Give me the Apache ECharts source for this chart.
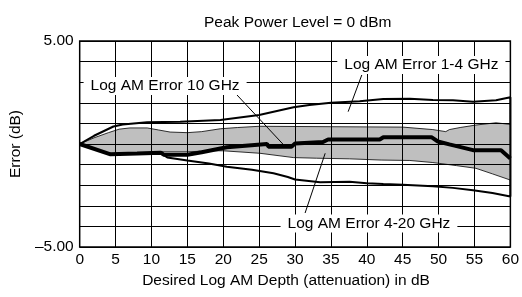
<!DOCTYPE html>
<html>
<head>
<meta charset="utf-8">
<style>
  html, body { margin: 0; padding: 0; background: #fff; }
  #main { width: 522px; height: 297px; }
</style>
<script src="https://cdn.jsdelivr.net/npm/echarts@6/dist/echarts.min.js"></script>
</head>
<body>
<div id="main"></div>
<script>
// 外包络线 1-4 GHz (上沿 / 下沿)
var outerUpperX = [0, 2, 4.7, 6, 9.4, 14, 19.6, 25, 29.8, 32, 35, 39, 42.3, 46, 49.2, 52, 54.8, 58, 60];
var outerUpperY = [0, 0.4, 0.85, 0.95, 1.05, 1.08, 1.17, 1.41, 1.78, 1.89, 2.0, 2.08, 2.18, 2.2, 2.14, 2.12, 2.05, 2.12, 2.27];
var outerLowerX = [0, 4.2, 8, 11.3, 12.2, 15, 18, 20.5, 24, 27, 29, 30, 33.5, 37.6, 40, 42.3, 45, 49.2, 52, 54.8, 57.5, 60];
var outerLowerY = [0, -0.48, -0.45, -0.45, -0.65, -0.8, -0.95, -1.1, -1.25, -1.42, -1.6, -1.72, -1.86, -1.83, -1.9, -1.94, -1.98, -2.05, -2.13, -2.25, -2.38, -2.55];

// 灰色带 4-20 GHz
var bandUpperX = [0, 2, 4, 5.5, 7, 9.4, 11, 12.6, 15, 17, 19.6, 22, 25, 30, 35, 40, 45, 49.2, 51, 51.5, 53, 55.2, 58, 60];
var bandUpperY = [0, 0.3, 0.55, 0.72, 0.78, 0.78, 0.68, 0.58, 0.55, 0.6, 0.74, 0.8, 0.86, 0.85, 0.84, 0.83, 0.82, 0.7, 0.6, 0.7, 0.8, 0.92, 1.03, 0.95];
var bandLowerX = [0, 4.3, 11.3, 15, 18.2, 20, 25.1, 29.8, 33, 37.6, 42, 46, 49.2, 52.5, 55.2, 57.5, 60];
var bandLowerY = [0, -0.47, -0.38, -0.38, -0.33, -0.33, -0.45, -0.66, -0.69, -0.72, -0.78, -0.8, -0.9, -1.05, -1.18, -1.45, -1.75];

// 10 GHz 粗线
var errX = [0, 4.3, 8, 11.3, 11.7, 15, 17, 19.6, 20.5, 23.5, 23.7, 26.1, 26.3, 29.5, 30, 33.9, 34.6, 41.8, 42.3, 49, 49.9, 51.5, 54.8, 58.7, 60];
var errY = [0, -0.5, -0.46, -0.42, -0.52, -0.52, -0.4, -0.22, -0.16, -0.07, 0.0, 0.0, -0.13, -0.13, 0.02, 0.1, 0.22, 0.22, 0.33, 0.33, 0.12, -0.02, -0.3, -0.3, -0.7];

// 标注文字与引线
var noteText = ['Log AM Error 10 GHz', 'Log AM Error 1-4 GHz', 'Log AM Error 4-20 GHz'];
var noteX = [11.9, 47.6, 40.3];
var noteY = [2.82, 3.83, -3.86];
var leaderFromX = [21, 39.3, 31.4];
var leaderFromY = [2.72, 3.35, -3.35];
var leaderToX = [28.3, 37.4, 34.2];
var leaderToY = [0.0, 1.57, -0.45];

var yLabelValues = [5, -5];
var yLabelTexts = ['5.00', '\u20135.00'];

var FONT = '"Liberation Sans", Arial, Helvetica, sans-serif';
var FS = 15.5;

function pairs(xs, ys) {
    var out = [];
    for (var i = 0; i < xs.length; i++) out.push([xs[i], ys[i]]);
    return out;
}

var outerLoop = pairs(outerUpperX, outerUpperY).concat(pairs(outerLowerX, outerLowerY).reverse());
var bandUpper = pairs(bandUpperX, bandUpperY);
var bandLower = pairs(bandLowerX, bandLowerY);

var leaderSeries = [];
for (var k = 0; k < leaderFromX.length; k++) {
    leaderSeries.push({
        type: 'line',
        z: 4,
        symbol: 'none',
        silent: true,
        lineStyle: { color: '#000', width: 1 },
        data: [[leaderFromX[k], leaderFromY[k]], [leaderToX[k], leaderToY[k]]]
    });
}

var myChart = echarts.init(document.getElementById('main'), null, { renderer: 'canvas' });
var option = {
    backgroundColor: '#fff',
    animation: false,
    title: {
        text: 'Peak Power Level = 0 dBm',
        left: 199,
        top: 10,
        textStyle: { fontFamily: FONT, fontSize: FS, fontWeight: 'normal', color: '#000' }
    },
    grid: {
        left: 79, right: 11, top: 41, bottom: 50,
        show: true, borderColor: '#000', borderWidth: 1.5, backgroundColor: 'transparent'
    },
    xAxis: {
        type: 'value',
        min: 0, max: 60, interval: 5,
        z: 3,
        name: 'Desired Log AM Depth (attenuation) in dB',
        nameLocation: 'middle',
        nameGap: 26,
        nameTextStyle: { fontFamily: FONT, fontSize: FS, color: '#000', padding: [0, 18, 0, 0] },
        axisLine: { show: false },
        axisTick: { show: false },
        axisLabel: { fontFamily: FONT, fontSize: FS, color: '#000', margin: 5 },
        splitLine: { show: true, lineStyle: { color: '#000', width: 1 } }
    },
    yAxis: {
        type: 'value',
        min: -5, max: 5, interval: 1,
        z: 3,
        name: 'Error (dB)',
        nameLocation: 'middle',
        nameGap: 53,
        nameTextStyle: { fontFamily: FONT, fontSize: FS, color: '#000' },
        axisLine: { show: false },
        axisTick: { show: false },
        axisLabel: {
            fontFamily: FONT, fontSize: FS, color: '#000', margin: 6,
            formatter: function (v) {
                var idx = yLabelValues.indexOf(v);
                return idx >= 0 ? yLabelTexts[idx] : '';
            }
        },
        splitLine: { show: true, lineStyle: { color: '#000', width: 1 } }
    },
    series: [
        {
            // 灰色带
            type: 'custom',
            z: 1,
            silent: true,
            data: [[0, 0]],
            encode: { x: 0, y: 1 },
            renderItem: function (params, api) {
                var pts = [];
                for (var i = 0; i < bandUpper.length; i++) pts.push(api.coord(bandUpper[i]));
                for (var j = bandLower.length - 1; j >= 0; j--) pts.push(api.coord(bandLower[j]));
                return {
                    type: 'polygon',
                    shape: { points: pts },
                    style: { fill: '#bfbfbf', stroke: '#000', lineWidth: 0.8 }
                };
            }
        },
        {
            // 1-4 GHz 外包络
            type: 'line',
            z: 4,
            symbol: 'none',
            silent: true,
            lineStyle: { color: '#000', width: 2 },
            data: outerLoop
        },
        {
            // 10 GHz
            type: 'line',
            z: 4,
            symbol: 'none',
            silent: true,
            lineStyle: { color: '#000', width: 4 },
            data: pairs(errX, errY)
        },
        {
            // 标注
            type: 'scatter',
            z: 6,
            symbolSize: 0,
            silent: true,
            itemStyle: { opacity: 1 },
            data: noteText.map(function (t, i) { return { value: [noteX[i], noteY[i]], name: t }; }),
            label: {
                show: true,
                position: 'inside',
                formatter: '{b}',
                fontFamily: FONT,
                fontSize: FS,
                color: '#000',
                opacity: 1,
                backgroundColor: '#fff',
                padding: [1, 7, 1, 7]
            }
        }
    ].concat(leaderSeries)
};
myChart.setOption(option);
</script>
</body>
</html>
